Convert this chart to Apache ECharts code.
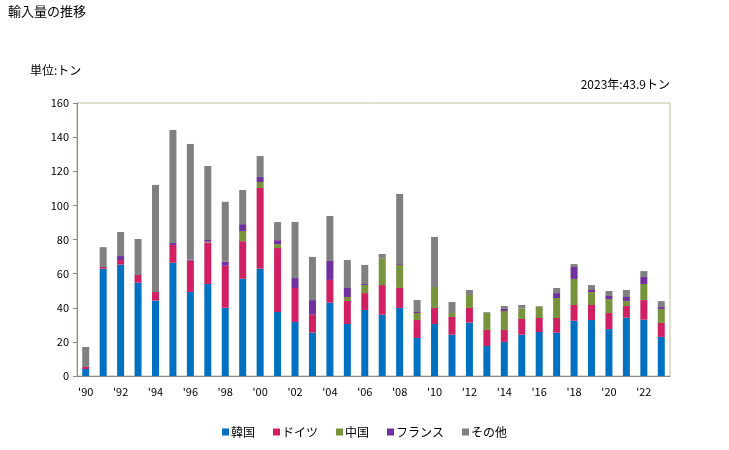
<!DOCTYPE html>
<html><head><meta charset="utf-8">
<script src="https://cdn.jsdelivr.net/npm/echarts@6/dist/echarts.min.js"></script>
<style>html,body{margin:0;padding:0;background:#fff}#c{width:729px;height:450px}</style>
</head><body><div id="c"></div>
<script>
const years = ["'90","'91","'92","'93","'94","'95","'96","'97","'98","'99","'00","'01","'02","'03","'04","'05","'06","'07","'08","'09","'10","'11","'12","'13","'14","'15","'16","'17","'18","'19","'20","'21","'22","'23"];
const korea   = [4.1,62.9,65.3,54.7,44.2,66.4,49.2,53.9,40.0,57.0,62.9,37.5,31.7,25.4,43.0,30.5,38.7,35.9,39.9,22.3,30.5,24.2,31.3,17.6,20.0,24.2,25.8,25.4,32.4,32.8,27.5,34.2,33.0,22.9];
const germany = [1.2,1.0,2.7,4.5,5.0,10.4,18.4,24.3,24.6,22.0,47.3,37.5,19.9,10.5,13.3,13.5,9.9,17.4,11.7,10.5,9.4,10.4,8.6,9.4,7.0,9.2,8.2,8.6,9.2,8.8,9.4,6.8,11.5,8.2];
const china   = [0,0,0,0,0,0,0,0.5,0,6.0,3.5,2.3,0,0,0,2.3,4.7,15.7,13.5,4.1,12.3,2.3,7.6,10.1,11.1,6.2,6.8,11.7,15.3,7.6,8.2,3.0,9.4,8.2];
const france  = [0,0,2.3,0,0,1.2,0.6,1.0,2.3,4.0,2.9,2.3,5.8,8.6,11.1,5.3,0.6,0,0.5,0.6,0,0,0,0,1.2,0,0,2.9,7.0,1.2,1.8,2.3,4.1,1.1];
const others  = [11.7,11.6,14.1,21.1,62.8,66.2,67.8,43.4,35.2,20.0,12.3,10.6,32.9,25.3,26.4,16.4,11.2,2.5,41.1,7.0,29.3,6.5,2.9,0.4,1.7,2.0,0.2,3.0,1.7,2.9,2.9,4.1,3.5,3.5];
const seriesNames = ['韓国','ドイツ','中国','フランス','その他'];
const colors = ['#0070c0','#d01f63','#77933c','#7030a0','#808080'];
const font = '"Noto Sans CJK JP", "Noto Sans", sans-serif';
const chart = echarts.init(document.getElementById('c'));
const dataSets = [korea, germany, china, france, others];
chart.setOption({
  animation: false,
  textStyle: {fontFamily: font},
  graphic: [
    {type:'text', left: 8, top: 5, style:{text:'輸入量の推移', font:'13px ' + font, fill:'#000'}},
    {type:'text', left: 30, top: 64, style:{text:'単位:トン', font:'12px ' + font, fill:'#000'}},
    {type:'text', right: 59, top: 78, style:{text:'2023年:43.9トン', font:'12px ' + font, fill:'#000', align:'right'}}
  ],
  legend: {
    bottom: 7, left: 'center', itemWidth: 7, itemHeight: 7, itemGap: 18,
    icon: 'rect',
    textStyle: {fontSize: 12, color: '#000', fontFamily: font, padding: [0, 0, 0, -3]},
    data: seriesNames
  },
  grid: {left: 77, right: 59, top: 103, bottom: 74, show: true, borderColor: '#c4bc96', borderWidth: 1, containLabel: false},
  xAxis: {
    type: 'category', data: years, boundaryGap: true,
    axisLine: {lineStyle: {color: '#888'}},
    axisTick: {show: false},
    axisLabel: {interval: 1, color: '#000', fontSize: 11, margin: 10, fontFamily: font},
    splitLine: {show: false}
  },
  yAxis: {
    type: 'value', min: 0, max: 160, interval: 20,
    axisLine: {show: true, lineStyle: {color: '#888'}},
    axisTick: {show: true, length: 4, lineStyle: {color: '#888'}},
    axisLabel: {color: '#000', fontSize: 11, margin: 8, fontFamily: font},
    splitLine: {show: false}
  },
  series: seriesNames.map((n, i) => ({
    name: n, type: 'bar', stack: 'total', data: dataSets[i],
    barWidth: 7, itemStyle: {color: colors[i]}
  }))
});
</script></body></html>
